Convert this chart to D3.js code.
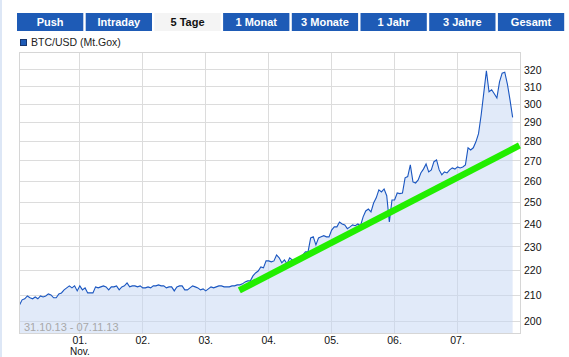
<!DOCTYPE html>
<html>
<head>
<meta charset="utf-8">
<script src="https://cdn.jsdelivr.net/npm/d3@7"></script>
<style>
  html, body { margin: 0; padding: 0; background: #ffffff; }
  svg { display: block; font-family: "Liberation Sans", Arial, sans-serif; }
</style>
</head>
<body>
<svg id="chart" width="569" height="357"></svg>
<script>
// ---------- DATA ----------
const buttons = ["Push", "Intraday", "5 Tage", "1 Monat", "3 Monate", "1 Jahr", "3 Jahre", "Gesamt"];
const activeButton = "5 Tage";
const seriesName = "BTC/USD (Mt.Gox)";
const rangeLabel = "31.10.13 - 07.11.13";

// hourly prices, first at 31.10.2013 01:00
const seriesStart = "2013-10-31T01:00:00";
const axisEnd = "2013-11-08T00:00:00";
const stepHours = 1;
const prices = [
  206.3, 208.3, 208.7, 209.8, 209.1, 208.7, 209.4, 208.7, 209.8, 209.4,
  209.8, 210.6, 210.2, 209.1, 209.1, 210.6, 211.0, 212.2, 213.0, 213.8,
  213.0, 213.8, 211.8, 213.8, 212.2, 213.0, 211.0, 211.0, 211.0, 213.4,
  213.0, 213.4, 213.8, 213.4, 212.2, 213.4, 213.4, 213.8, 212.2, 213.4,
  213.8, 215.0, 213.4, 213.8, 213.8, 213.4, 213.8, 213.0, 213.0, 213.4,
  213.0, 213.8, 213.8, 214.2, 213.8, 213.8, 213.0, 213.4, 213.4, 211.8,
  213.4, 213.8, 213.8, 212.2, 212.2, 213.0, 213.8, 213.4, 213.0, 212.2,
  212.6, 211.8, 212.6, 213.4, 213.0, 213.4, 213.8, 213.8, 213.4, 213.4,
  213.4, 213.8, 213.8, 214.2, 214.2, 214.6, 215.4, 215.8, 215.8, 217.8,
  219.0, 219.8, 221.5, 221.1, 224.0, 224.0, 223.6, 224.0, 226.5, 225.3,
  223.2, 224.4, 222.8, 225.3, 224.4, 224.0, 224.4, 224.4, 226.5, 227.8,
  227.8, 233.8, 234.3, 230.8, 233.8, 234.3, 234.8, 234.3, 234.3, 237.3,
  238.7, 238.7, 240.9, 240.0, 239.6, 237.9, 238.7, 239.6, 239.2, 240.0,
  239.2, 243.2, 245.9, 246.8, 245.5, 249.6, 252.0, 255.8, 254.8, 256.2,
  253.0, 240.9, 251.0, 251.0, 254.3, 254.0, 254.3, 261.6, 262.2, 268.0,
  259.6, 259.1, 260.6, 264.0, 265.9, 268.5, 264.5, 265.5, 269.6, 270.5,
  265.5, 263.1, 264.5, 264.0, 265.5, 266.5, 265.9, 267.0, 266.5, 267.0,
  268.0, 276.7, 275.6, 276.7, 279.8, 284.1, 294.2, 306.6, 319.5, 307.2,
  308.4, 306.1, 303.7, 312.9, 318.1, 318.7, 311.7, 302.6, 292.9
];

// hand-drawn green trend line
const trendTimes = ["2013-11-03T12:48:00", "2013-11-07T23:36:00"];
const trendValues = [212.0, 277.9];

// axes
const yTicks = [200, 210, 220, 230, 240, 250, 260, 270, 280, 290, 300, 310, 320];
const yDomain = [195.6, 330.6];
const dayTickDates = ["2013-11-01", "2013-11-02", "2013-11-03", "2013-11-04", "2013-11-05", "2013-11-06", "2013-11-07"];
const dayTickLabels = ["01.", "02.", "03.", "04.", "05.", "06.", "07."];
const monthLabel = "Nov.";

// ---------- DRAW ----------
const svg = d3.select("#chart");
const parse = s => new Date(s);
const t0 = parse(seriesStart);
const data = prices.map((v, i) => ({ t: new Date(t0.getTime() + i * stepHours * 3600000), v }));

const L = 19.5, R = 520.5, T = 52.5, B = 333.5;
const x = d3.scaleTime().domain([t0, parse(axisEnd)]).range([L, R]);
const y = d3.scaleLog().domain(yDomain).range([B, T]);
const crisp = p => Math.floor(p) + 0.5;

// left page stripe
svg.append("rect").attr("x", 0).attr("y", 0).attr("width", 2).attr("height", 357).attr("fill", "#dde7f6");

// buttons
const bx = d3.scaleBand().domain(buttons).range([17, 17 + 68.4 * buttons.length]).paddingInner(0.035).paddingOuter(0);
const bg = svg.append("g");
buttons.forEach(b => {
  const active = b === activeButton;
  bg.append("rect").attr("x", bx(b)).attr("y", 13).attr("width", bx.bandwidth()).attr("height", 18)
    .attr("fill", active ? "#f4f4f4" : "#1e5bb6");
  bg.append("text").attr("x", bx(b) + bx.bandwidth() / 2).attr("y", 25.5)
    .attr("text-anchor", "middle").attr("font-size", 11).attr("font-weight", "bold")
    .attr("fill", active ? "#111" : "#ffffff").text(b);
});

// legend
svg.append("rect").attr("x", 20.5).attr("y", 39.5).attr("width", 6).attr("height", 6)
  .attr("fill", "#1e5bb6").attr("stroke", "#16356e").attr("stroke-width", 1);
svg.append("text").attr("x", 31).attr("y", 46).attr("font-size", 10.5).attr("fill", "#222").text(seriesName);

// grid
const grid = svg.append("g").attr("stroke", "#dcdcdc").attr("stroke-width", 1).attr("shape-rendering", "crispEdges");
yTicks.forEach(v => {
  grid.append("line").attr("x1", L).attr("x2", R).attr("y1", crisp(y(v))).attr("y2", crisp(y(v)));
});
dayTickDates.forEach(d => {
  const px = crisp(x(parse(d + "T00:00:00")));
  grid.append("line").attr("x1", px).attr("x2", px).attr("y1", T).attr("y2", B);
});

// area + line
const area = d3.area().x(d => x(d.t)).y0(B).y1(d => y(d.v));
svg.append("path").datum(data).attr("d", area).attr("fill", "#c4d6f3").attr("fill-opacity", 0.5);
const line = d3.line().x(d => x(d.t)).y(d => y(d.v));
svg.append("path").datum(data).attr("d", line).attr("fill", "none")
  .attr("stroke", "#1a56c0").attr("stroke-width", 1.1).attr("stroke-linejoin", "miter");

// frame
svg.append("rect").attr("x", L).attr("y", T).attr("width", R - L).attr("height", B - T)
  .attr("fill", "none").attr("stroke", "#d6d6d6").attr("shape-rendering", "crispEdges");

// range label
svg.append("text").attr("x", 24).attr("y", 331).attr("font-size", 11).attr("fill", "#a8a8a8").text(rangeLabel);

// green trend line
const trend = trendTimes.map((s, i) => ({ t: parse(s), v: trendValues[i] }));
svg.append("path").datum(trend).attr("d", line).attr("fill", "none")
  .attr("stroke", "#22ee00").attr("stroke-width", 6.5);

// y axis labels
const ya = svg.append("g").attr("font-size", 10.5).attr("fill", "#111");
yTicks.forEach(v => {
  ya.append("text").attr("x", 524).attr("y", y(v)).attr("dy", "0.36em").text(v);
});

// x axis labels
const xa = svg.append("g").attr("font-size", 10.5).attr("fill", "#111").attr("text-anchor", "middle");
dayTickDates.forEach((d, i) => {
  const px = x(parse(d + "T00:00:00"));
  xa.append("text").attr("x", px).attr("y", 344).text(dayTickLabels[i]);
  if (i === 0) xa.append("text").attr("x", px).attr("y", 354.8).attr("font-size", 10).text(monthLabel);
});
</script>
</body>
</html>
